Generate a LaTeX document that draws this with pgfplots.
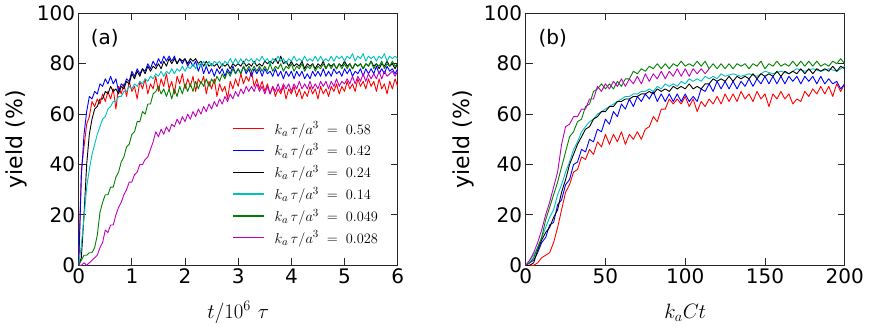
\documentclass[border=0pt]{standalone}
\usepackage{fontspec}
\setmainfont{DejaVu Sans}
\usepackage{pgfplots}
\pgfplotsset{compat=1.18}
\definecolor{mred}{rgb}{1,0,0}
\definecolor{mblue}{rgb}{0,0,1}
\definecolor{mcyan}{rgb}{0,0.75,0.75}
\definecolor{mgreen}{rgb}{0,0.5,0}
\definecolor{mmag}{rgb}{0.75,0,0.75}
\pgfplotsset{
  myax/.style={
    scale only axis, width=319pt, height=252pt,
    ymin=0, ymax=100, ytick={0,20,...,100},
    axis line style={line width=1pt, black!85},
    major tick length=7pt, tick style={line width=0.9pt, black!85},
    tick align=inside,
    ticklabel style={font=\fontsize{20}{20}\selectfont},
    /pgf/number format/assume math mode=true,
    ylabel={\fontsize{22}{22}\selectfont yield (\%)},
    ylabel style={at={(axis description cs:-0.194,0.5)}, anchor=center},
    xlabel style={at={(axis description cs:0.5,-0.187)}, anchor=center},
    every axis plot/.append style={line width=0.9pt, line join=round},
  }
}
\begin{document}
\begin{tikzpicture}
\begin{axis}[myax, xmin=0, xmax=6, xtick={0,1,...,6},
  xlabel={\fontsize{22}{22}\selectfont $t/10^6\ \tau$},
  legend style={at={(rel axis cs:0.4712,0.586)}, anchor=north west, draw=none, fill=none,
    font=\fontsize{15}{15}\selectfont, row sep=4pt, legend cell align=left},
  legend image code/.code={\draw[#1, line width=1.5pt] (0pt,0pt) -- (31pt,0pt);},
]
\addplot[mred] coordinates {(0,0) (0.05,38) (0.1,47) (0.15,56) (0.2,59) (0.25,65) (0.3,63) (0.35,66) (0.4,64) (0.45,68) (0.5,65) (0.55,69) (0.6,66) (0.65,70) (0.7,62) (0.75,71) (0.8,68) (0.85,72) (0.9,67) (0.95,73) (1.0,69) (1.05,71) (1.1,66) (1.15,73) (1.2,70) (1.25,74) (1.3,68) (1.35,72) (1.4,70) (1.45,75) (1.5,69) (1.55,74) (1.6,71) (1.65,76) (1.7,70) (1.75,73) (1.8,68) (1.85,75) (1.9,72) (1.95,76) (2.0,70) (2.05,74) (2.1,71) (2.15,75) (2.2,69) (2.25,74) (2.3,72) (2.35,75) (2.4,68) (2.45,73) (2.5,70) (2.55,74) (2.6,67) (2.65,72) (2.7,69) (2.75,71) (2.8,66) (2.85,73) (2.9,70) (2.95,74) (3.0,71) (3.05,76) (3.1,72) (3.15,75) (3.2,73) (3.25,77) (3.3,71) (3.35,74) (3.4,70) (3.45,73) (3.5,69) (3.55,72) (3.6,68) (3.65,71) (3.7,67) (3.75,70) (3.8,68) (3.85,71) (3.9,66) (3.95,70) (4.0,68) (4.05,71) (4.1,67) (4.15,70) (4.2,66) (4.25,69) (4.3,67) (4.35,71) (4.4,68) (4.45,70) (4.5,66) (4.55,71) (4.6,68) (4.65,70) (4.7,67) (4.75,71) (4.8,69) (4.85,72) (4.9,68) (4.95,71) (5.0,69) (5.05,73) (5.1,70) (5.15,72) (5.2,69) (5.25,74) (5.3,71) (5.35,73) (5.4,70) (5.45,74) (5.5,71) (5.55,73) (5.6,69) (5.65,74) (5.7,70) (5.75,72) (5.8,68) (5.85,73) (5.9,70) (5.95,74) (6.0,71)};
\addlegendentry{\hspace{8pt}$k_a\,\tau/a^3\;=\;0.58$}
\addplot[mblue] coordinates {(0,0) (0.05,35) (0.1,52) (0.15,61) (0.2,67) (0.25,66) (0.3,69) (0.35,68) (0.4,72) (0.45,71) (0.5,74) (0.55,72) (0.6,75) (0.65,72) (0.7,74) (0.75,69) (0.8,72) (0.85,71) (0.9,74) (0.95,73) (1.0,77) (1.05,75) (1.1,78) (1.15,76) (1.2,78) (1.25,77) (1.3,80) (1.35,78) (1.4,81) (1.45,79) (1.5,82) (1.55,80) (1.6,83) (1.65,81) (1.7,83) (1.75,81) (1.8,83) (1.85,80) (1.9,82) (1.95,80) (2.0,82) (2.05,79) (2.1,81) (2.15,79) (2.2,81) (2.25,77) (2.3,80) (2.35,76) (2.4,79) (2.45,76) (2.5,78) (2.55,75) (2.6,78) (2.65,76) (2.7,78) (2.75,75) (2.8,78) (2.85,76) (2.9,79) (2.95,76) (3.0,78) (3.05,76) (3.1,79) (3.15,76) (3.2,78) (3.25,75) (3.3,78) (3.35,76) (3.4,78) (3.45,75) (3.5,78) (3.55,76) (3.6,77) (3.65,75) (3.7,78) (3.75,75) (3.8,77) (3.85,74) (3.9,77) (3.95,75) (4.0,77) (4.05,74) (4.1,77) (4.15,75) (4.2,77) (4.25,74) (4.3,76) (4.35,74) (4.4,77) (4.45,75) (4.5,77) (4.55,75) (4.6,78) (4.65,75) (4.7,77) (4.75,75) (4.8,78) (4.85,76) (4.9,77) (4.95,75) (5.0,78) (5.05,76) (5.1,78) (5.15,75) (5.2,77) (5.25,76) (5.3,78) (5.35,75) (5.4,78) (5.45,76) (5.5,78) (5.55,76) (5.6,79) (5.65,76) (5.7,78) (5.75,76) (5.8,79) (5.85,77) (5.9,78) (5.95,76) (6.0,78)};
\addlegendentry{\hspace{8pt}$k_a\,\tau/a^3\;=\;0.42$}
\addplot[black] coordinates {(0,0) (0.05,3) (0.1,20) (0.15,40) (0.2,52) (0.25,58) (0.3,62) (0.35,63) (0.4,66) (0.45,66) (0.5,69) (0.55,68) (0.6,71) (0.65,69) (0.7,70) (0.75,68) (0.8,71) (0.85,70) (0.9,73) (0.95,72) (1.0,76) (1.05,74) (1.1,77) (1.15,75) (1.2,78) (1.25,76) (1.3,79) (1.35,77) (1.4,79) (1.45,78) (1.5,80) (1.55,78) (1.6,81) (1.65,79) (1.7,82) (1.75,80) (1.8,82) (1.85,80) (1.9,82) (1.95,81) (2.0,82) (2.05,80) (2.1,82) (2.15,81) (2.2,82) (2.25,80) (2.3,81) (2.35,79) (2.4,81) (2.45,79) (2.5,80) (2.55,79) (2.6,80) (2.65,78) (2.7,80) (2.75,79) (2.8,80) (2.85,78) (2.9,80) (2.95,79) (3.0,80) (3.05,79) (3.1,81) (3.15,79) (3.2,80) (3.25,79) (3.3,81) (3.35,79) (3.4,80) (3.45,79) (3.5,81) (3.55,80) (3.6,81) (3.65,80) (3.7,82) (3.75,80) (3.8,83) (3.85,80) (3.9,81) (3.95,79) (4.0,81) (4.05,79) (4.1,80) (4.15,79) (4.2,81) (4.25,78) (4.3,80) (4.35,79) (4.4,80) (4.45,78) (4.5,80) (4.55,79) (4.6,81) (4.65,78) (4.7,80) (4.75,79) (4.8,80) (4.85,78) (4.9,80) (4.95,79) (5.0,81) (5.05,79) (5.1,80) (5.15,78) (5.2,80) (5.25,79) (5.3,80) (5.35,78) (5.4,80) (5.45,79) (5.5,81) (5.55,79) (5.6,80) (5.65,78) (5.7,80) (5.75,79) (5.8,81) (5.85,79) (5.9,80) (5.95,78) (6.0,80)};
\addlegendentry{\hspace{8pt}$k_a\,\tau/a^3\;=\;0.24$}
\addplot[mcyan] coordinates {(0,0) (0.05,8) (0.1,19) (0.15,31) (0.2,38) (0.25,44) (0.3,48) (0.35,52) (0.4,55) (0.45,58) (0.5,59) (0.55,62) (0.6,63) (0.65,65) (0.7,65) (0.75,67) (0.8,67) (0.85,69) (0.9,69) (0.95,71) (1.0,70) (1.05,72) (1.1,71) (1.15,73) (1.2,72) (1.25,74) (1.3,73) (1.35,75) (1.4,74) (1.45,76) (1.5,75) (1.55,77) (1.6,75) (1.65,77) (1.7,76) (1.75,78) (1.8,76) (1.85,78) (1.9,77) (1.95,79) (2.0,77) (2.05,79) (2.1,78) (2.15,80) (2.2,78) (2.25,80) (2.3,79) (2.35,81) (2.4,79) (2.45,81) (2.5,79) (2.55,81) (2.6,80) (2.65,81) (2.7,79) (2.75,81) (2.8,80) (2.85,82) (2.9,80) (2.95,82) (3.0,80) (3.05,82) (3.1,80) (3.15,82) (3.2,81) (3.25,82) (3.3,80) (3.35,82) (3.4,81) (3.45,83) (3.5,81) (3.55,82) (3.6,80) (3.65,82) (3.7,81) (3.75,83) (3.8,81) (3.85,82) (3.9,80) (3.95,82) (4.0,81) (4.05,83) (4.1,81) (4.15,82) (4.2,81) (4.25,83) (4.3,81) (4.35,82) (4.4,81) (4.45,83) (4.5,81) (4.55,83) (4.6,81) (4.65,82) (4.7,81) (4.75,83) (4.8,81) (4.85,83) (4.9,82) (4.95,83) (5.0,81) (5.05,83) (5.1,82) (5.15,84) (5.2,81) (5.25,83) (5.3,82) (5.35,84) (5.4,81) (5.45,83) (5.5,82) (5.55,83) (5.6,81) (5.65,83) (5.7,82) (5.75,84) (5.8,81) (5.85,83) (5.9,82) (5.95,83) (6.0,82)};
\addlegendentry{\hspace{8pt}$k_a\,\tau/a^3\;=\;0.14$}
\addplot[mgreen] coordinates {(0,0) (0.05,2) (0.1,4) (0.15,4) (0.2,5) (0.25,5) (0.3,7) (0.35,12) (0.4,21) (0.45,25) (0.5,28) (0.55,28) (0.6,31) (0.65,31) (0.7,35) (0.75,37) (0.8,41) (0.85,43) (0.9,47) (0.95,48) (1.0,52) (1.05,53) (1.1,57) (1.15,57) (1.2,61) (1.25,60) (1.3,64) (1.35,64) (1.4,68) (1.45,69) (1.5,71) (1.55,68) (1.6,70) (1.65,67) (1.7,70) (1.75,66) (1.8,70) (1.85,67) (1.9,71) (1.95,68) (2.0,72) (2.05,69) (2.1,72) (2.15,69) (2.2,73) (2.25,70) (2.3,73) (2.35,71) (2.4,74) (2.45,71) (2.5,74) (2.55,72) (2.6,75) (2.65,73) (2.7,76) (2.75,74) (2.8,77) (2.85,75) (2.9,78) (2.95,76) (3.0,78) (3.05,76) (3.1,79) (3.15,77) (3.2,79) (3.25,77) (3.3,79) (3.35,77) (3.4,79) (3.45,77) (3.5,79) (3.55,77) (3.6,80) (3.65,77) (3.7,79) (3.75,78) (3.8,80) (3.85,77) (3.9,79) (3.95,78) (4.0,80) (4.05,77) (4.1,79) (4.15,78) (4.2,80) (4.25,77) (4.3,79) (4.35,78) (4.4,80) (4.45,77) (4.5,79) (4.55,78) (4.6,80) (4.65,78) (4.7,80) (4.75,78) (4.8,80) (4.85,78) (4.9,80) (4.95,78) (5.0,80) (5.05,78) (5.1,80) (5.15,78) (5.2,80) (5.25,79) (5.3,80) (5.35,78) (5.4,80) (5.45,79) (5.5,81) (5.55,78) (5.6,80) (5.65,79) (5.7,81) (5.75,78) (5.8,80) (5.85,79) (5.9,81) (5.95,79) (6.0,80)};
\addlegendentry{\hspace{8pt}$k_a\,\tau/a^3\;=\;0.049$}
\addplot[mmag] coordinates {(0,0) (0.05,0) (0.1,1) (0.15,0) (0.2,1) (0.25,2) (0.3,3) (0.35,4) (0.4,7) (0.45,9) (0.5,14) (0.55,13) (0.6,16) (0.65,16) (0.7,20) (0.75,23) (0.8,25) (0.85,28) (0.9,30) (0.95,33) (1.0,33) (1.05,36) (1.1,37) (1.15,40) (1.2,40) (1.25,42) (1.3,43) (1.35,46) (1.4,49) (1.45,53) (1.5,51) (1.55,54) (1.6,52) (1.65,55) (1.7,53) (1.75,56) (1.8,55) (1.85,58) (1.9,56) (1.95,59) (2.0,57) (2.05,60) (2.1,58) (2.15,61) (2.2,59) (2.25,62) (2.3,60) (2.35,63) (2.4,61) (2.45,64) (2.5,62) (2.55,65) (2.6,63) (2.65,66) (2.7,64) (2.75,67) (2.8,65) (2.85,68) (2.9,66) (2.95,69) (3.0,67) (3.05,70) (3.1,68) (3.15,71) (3.2,69) (3.25,71) (3.3,69) (3.35,72) (3.4,69) (3.45,71) (3.5,68) (3.55,71) (3.6,68) (3.65,71) (3.7,69) (3.75,72) (3.8,69) (3.85,72) (3.9,70) (3.95,72) (4.0,69) (4.05,72) (4.1,70) (4.15,73) (4.2,70) (4.25,72) (4.3,70) (4.35,73) (4.4,70) (4.45,72) (4.5,70) (4.55,73) (4.6,71) (4.65,73) (4.7,70) (4.75,73) (4.8,71) (4.85,74) (4.9,71) (4.95,73) (5.0,72) (5.05,74) (5.1,72) (5.15,75) (5.2,72) (5.25,75) (5.3,73) (5.35,76) (5.4,73) (5.45,76) (5.5,74) (5.55,76) (5.6,74) (5.65,77) (5.7,74) (5.75,77) (5.8,75) (5.9,77) (5.95,75) (6.0,77)};
\addlegendentry{\hspace{8pt}$k_a\,\tau/a^3\;=\;0.028$}
\node[font=\fontsize{20}{20}\selectfont] at (axis cs:0.49,90) {(a)};
\end{axis}
\begin{axis}[myax, at={(447pt,0pt)}, xmin=0, xmax=200, xtick={0,50,...,200},
  xlabel={\fontsize{22}{22}\selectfont $k_a C t$}]
\addplot[mred] coordinates {(0,0) (2.5,0) (5,0) (7.5,1) (10,3) (12.5,4) (15,5) (17.5,9) (20,15) (22.5,22) (25,29) (27.5,32) (30,37) (32.5,38) (35,43) (37.5,42) (40,46) (42.5,44) (45,49) (47.5,47) (50,52) (52.5,48) (55,52) (57.5,49) (60,53) (62.5,48) (65,52) (67.5,50) (70,53) (72.5,50) (75,54) (77.5,55) (80,59) (82.5,57) (85,62) (87.5,62) (90,66) (92.5,64) (95,66) (97.5,64) (100,67) (102.5,63) (105,66) (107.5,61) (110,65) (112.5,63) (115,66) (117.5,64) (120,67) (122.5,64) (125,68) (127.5,65) (130,68) (132.5,65) (135,69) (137.5,66) (140,68) (142.5,65) (145,69) (147.5,66) (150,68) (152.5,63) (155,68) (157.5,66) (160,69) (162.5,66) (165,68) (167.5,64) (170,66) (172.5,65) (175,69) (177.5,67) (180,70) (182.5,68) (185,71) (187.5,68) (190,71) (192.5,67) (195,72) (197.5,69) (200,72)};
\addplot[mblue] coordinates {(0,0) (2.5,1) (5,2) (7.5,5) (10,9) (12.5,11) (15,16) (17.5,17) (20,24) (22.5,26) (25,32) (27.5,34) (30,40) (32.5,41) (35,46) (37.5,45) (40,50) (42.5,49) (45,54) (47.5,53) (50,58) (52.5,56) (55,61) (57.5,59) (60,64) (62.5,62) (65,66) (67.5,63) (70,67) (72.5,65) (75,68) (77.5,66) (80,69) (82.5,65) (85,68) (87.5,65) (90,68) (92.5,65) (95,68) (97.5,65) (100,68) (102.5,65) (105,67) (107.5,65) (110,70) (112.5,69) (115,72) (117.5,69) (120,73) (122.5,70) (125,73) (127.5,70) (130,73) (132.5,70) (135,73) (137.5,71) (140,74) (142.5,71) (145,74) (147.5,72) (150,75) (152.5,72) (155,75) (157.5,72) (160,75) (162.5,72) (165,75) (167.5,73) (170,75) (172.5,72) (175,75) (177.5,73) (180,75) (182.5,72) (185,75) (187.5,72) (190,74) (192.5,72) (195,73) (197.5,70) (200,72)};
\addplot[mcyan] coordinates {(0,0) (2.5,2) (5,4) (7.5,7) (10,11) (12.5,15) (15,19) (17.5,22) (20,28) (22.5,32) (25,37) (27.5,41) (30,46) (32.5,49) (35,53) (37.5,55) (40,57) (42.5,58) (45,60) (47.5,61) (50,62) (52.5,63) (55,64) (57.5,65) (60,66) (62.5,67) (65,67) (67.5,68) (70,68) (72.5,69) (75,69) (77.5,70) (80,69) (82.5,71) (85,70) (87.5,72) (90,71) (92.5,72) (95,71) (97.5,73) (100,72) (102.5,74) (105,73) (107.5,74) (110,73) (112.5,75) (115,74) (117.5,75) (120,74) (122.5,76) (125,75) (130,76) (135,75) (140,76) (145,75) (150,77) (155,76) (160,77) (165,76) (170,78) (175,77) (180,78) (185,77) (190,78) (195,77) (200,79)};
\addplot[black] coordinates {(0,0) (2.5,0) (5,1) (7.5,6) (10,10) (12.5,13) (15,15) (17.5,19) (20,22) (22.5,29) (25,34) (27.5,40) (30,44) (32.5,48) (35,51) (37.5,54) (40,55) (42.5,58) (45,59) (47.5,61) (50,61) (52.5,63) (55,63) (57.5,65) (60,65) (62.5,66) (65,66) (67.5,67) (70,67) (72.5,68) (75,68) (77.5,69) (80,68) (82.5,70) (85,69) (87.5,70) (90,69) (92.5,71) (95,70) (97.5,71) (100,70) (102.5,72) (105,70) (107.5,71) (110,70) (112.5,72) (115,72) (117.5,74) (120,73) (122.5,74) (125,73) (127.5,75) (130,73) (132.5,75) (135,74) (137.5,75) (140,74) (142.5,76) (145,74) (147.5,76) (150,75) (152.5,76) (155,75) (157.5,77) (160,75) (162.5,77) (165,76) (167.5,77) (170,76) (172.5,78) (175,76) (177.5,78) (180,76) (182.5,78) (185,77) (187.5,78) (190,77) (192.5,79) (195,77) (197.5,79) (200,78)};
\addplot[mgreen] coordinates {(0,0) (2.5,1) (5,3) (7.5,7) (10,11) (12.5,18) (15,23) (17.5,28) (20,33) (22.5,39) (25,45) (27.5,51) (30,53) (32.5,57) (35,58) (37.5,63) (40,64) (42.5,69) (45,70) (47.5,72) (50,70) (52.5,72) (55,70) (57.5,73) (60,71) (62.5,74) (65,74) (67.5,77) (70,76) (72.5,78) (75,77) (77.5,79) (80,78) (82.5,80) (85,78) (87.5,80) (90,78) (92.5,80) (95,79) (97.5,81) (100,79) (102.5,80) (105,79) (107.5,81) (110,79) (112.5,81) (115,78) (117.5,80) (120,78) (122.5,80) (125,78) (127.5,80) (130,78) (132.5,80) (135,79) (137.5,80) (140,78) (142.5,80) (145,79) (147.5,81) (150,78) (152.5,80) (155,79) (157.5,81) (160,79) (162.5,80) (165,79) (167.5,81) (170,79) (172.5,81) (175,79) (177.5,81) (180,79) (182.5,81) (185,79) (187.5,80) (190,79) (192.5,81) (195,80) (197.5,82) (200,80)};
\addplot[mmag] coordinates {(0,0) (2.5,2) (5,5) (7.5,9) (10,14) (12.5,20) (15,25) (17.5,31) (20,37) (22.5,48) (25,55) (27.5,56) (30,59) (32.5,59) (35,62) (37.5,62) (40,66) (42.5,66) (45,71) (47.5,69) (50,72) (52.5,70) (55,73) (57.5,71) (60,74) (62.5,71) (65,74) (67.5,72) (70,75) (72.5,72) (75,76) (77.5,73) (80,76) (82.5,74) (85,77) (87.5,74) (90,77) (92.5,75) (95,78) (97.5,75) (100,78) (102.5,75) (105,78) (107.5,76) (110,78) (112.5,76) (115,78)};
\node[font=\fontsize{20}{20}\selectfont] at (axis cs:16.9,90) {(b)};
\end{axis}
\pgfresetboundingbox
\useasboundingbox (-78.7pt,-62pt) rectangle (792.3pt,265.3pt);
\end{tikzpicture}
\end{document}
